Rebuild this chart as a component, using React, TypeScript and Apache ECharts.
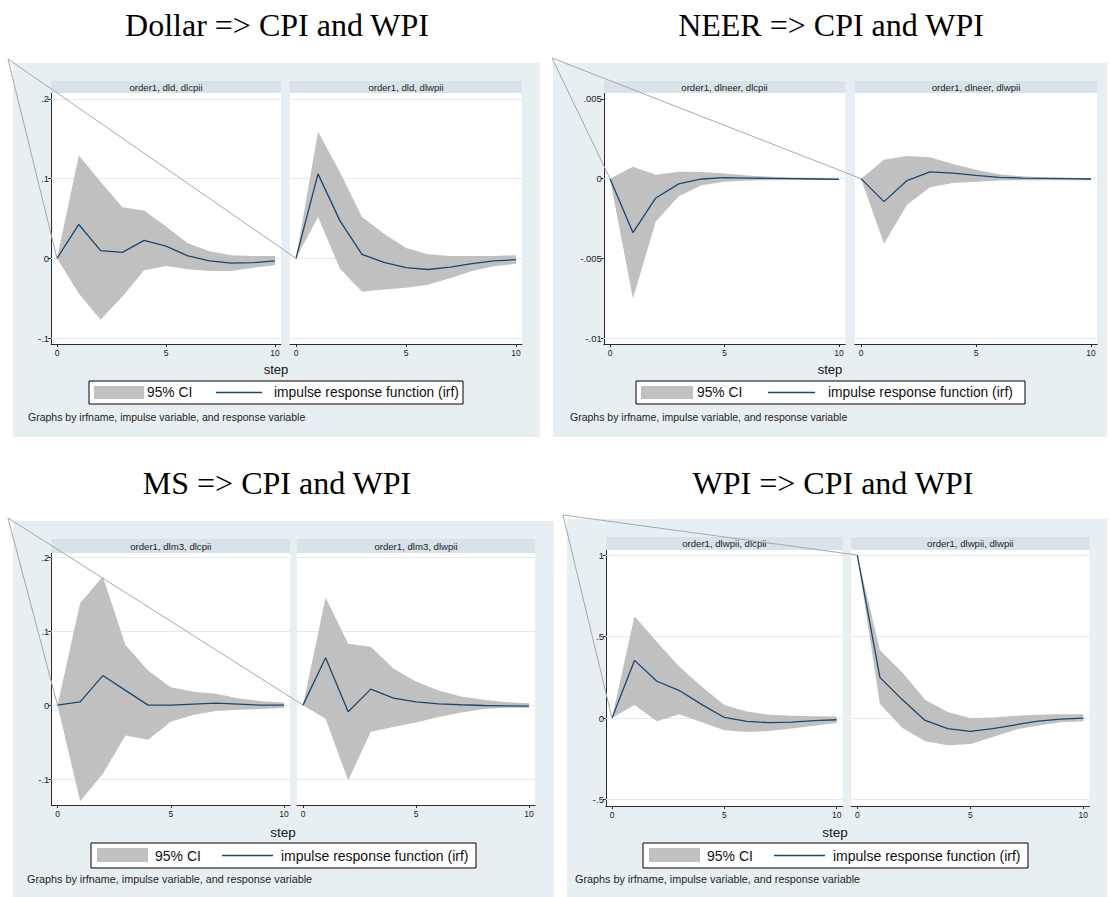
import React, { useEffect, useRef } from "react";
import * as echarts from "echarts";

// ---------------- data ----------------
const steps = [0, 1, 2, 3, 4, 5, 6, 7, 8, 9, 10];
const xTicks = [0, 5, 10];

const panelTitles = ["Dollar => CPI and WPI", "NEER => CPI and WPI", "MS => CPI and WPI", "WPI => CPI and WPI"];
const stripLabels = [
  ["order1, dld, dlcpii", "order1, dld, dlwpii"],
  ["order1, dlneer, dlcpii", "order1, dlneer, dlwpii"],
  ["order1, dlm3, dlcpii", "order1, dlm3, dlwpii"],
  ["order1, dlwpii, dlcpii", "order1, dlwpii, dlwpii"],
];
const yTicksDollar = [-0.1, 0, 0.1, 0.2];
const yTicksNeer = [-0.01, -0.005, 0, 0.005];
const yTicksMs = [-0.1, 0, 0.1, 0.2];
const yTicksWpi = [-0.5, 0, 0.5, 1];
const legendLabels = ["95% CI", "impulse response function (irf)"];
const xAxisTitle = "step";
const noteText = "Graphs by irfname, impulse variable, and response variable";

// Dollar -> CPI / WPI
const dollarCpiIrf = [0, 0.0425, 0.0096, 0.0075, 0.0225, 0.0154, 0.003, -0.0033, -0.006, -0.0054, -0.0033];
const dollarCpiUp = [0, 0.129, 0.096, 0.064, 0.06, 0.04, 0.019, 0.009, 0.004, 0.003, 0.003];
const dollarCpiLo = [0, -0.044, -0.077, -0.048, -0.015, -0.0096, -0.0138, -0.016, -0.0158, -0.0117, -0.0088];
const dollarWpiIrf = [0, 0.106, 0.047, 0.005, -0.005, -0.0117, -0.014, -0.011, -0.0067, -0.0033, -0.0017];
const dollarWpiUp = [0, 0.159, 0.108, 0.052, 0.031, 0.013, 0.005, 0.003, 0.003, 0.003, 0.004];
const dollarWpiLo = [0, 0.052, -0.013, -0.042, -0.039, -0.037, -0.033, -0.025, -0.016, -0.01, -0.0067];

// NEER -> CPI / WPI
const neerCpiIrf = [0, -0.00338, -0.00121, -0.00033, -0.00002, 0.00006, 0.00004, 0.00002, 0, -0.00002, -0.00004];
const neerCpiUp = [0, 0.00075, 0.00025, 0.00044, 0.00042, 0.00033, 0.0002, 0.00012, 0.00008, 0.00005, 0.00005];
const neerCpiLo = [0, -0.00752, -0.00269, -0.0011, -0.00042, -0.0002, -0.00012, -0.0001, -0.00008, -0.00008, -0.00008];
const neerWpiIrf = [0, -0.00144, -0.00012, 0.00042, 0.00035, 0.0002, 0.00008, 0.00004, 0.00002, 0, -0.00002];
const neerWpiUp = [0, 0.00119, 0.00142, 0.00135, 0.00092, 0.00056, 0.00027, 0.00015, 0.00008, 0.00005, 0.00004];
const neerWpiLo = [0, -0.00408, -0.00163, -0.00054, -0.00027, -0.00019, -0.00012, -0.0001, -0.0001, -0.0001, -0.0001];

// MS -> CPI / WPI
const msCpiIrf = [0, 0.0045, 0.04, 0.02, 0, 0, 0.0014, 0.0027, 0.0014, 0, 0];
const msCpiUp = [0, 0.138, 0.174, 0.0815, 0.0468, 0.0243, 0.018, 0.0153, 0.009, 0.0054, 0.0036];
const msCpiLo = [0, -0.13, -0.093, -0.041, -0.047, -0.0225, -0.0135, -0.0081, -0.0063, -0.0054, -0.004];
const msWpiIrf = [0, 0.064, -0.009, 0.0216, 0.0095, 0.0045, 0.0018, 0.0005, -0.0005, -0.001, -0.0014];
const msWpiUp = [0, 0.1455, 0.083, 0.079, 0.0495, 0.032, 0.0198, 0.0117, 0.0072, 0.004, 0.0027];
const msWpiLo = [0, -0.0185, -0.102, -0.036, -0.0297, -0.0234, -0.0162, -0.0099, -0.0054, -0.0036, -0.0036];

// WPI -> CPI / WPI
const wpiCpiIrf = [0, 0.354, 0.226, 0.169, 0.083, 0.004, -0.02, -0.028, -0.024, -0.016, -0.01];
const wpiCpiUp = [0, 0.624, 0.467, 0.315, 0.193, 0.081, 0.041, 0.02, 0.014, 0.012, 0.01];
const wpiCpiLo = [0, 0.081, -0.02, 0.024, -0.026, -0.075, -0.085, -0.079, -0.063, -0.047, -0.03];
const wpiWpiIrf = [1, 0.25, 0.112, -0.014, -0.065, -0.081, -0.065, -0.041, -0.018, -0.006, 0];
const wpiWpiUp = [1, 0.417, 0.28, 0.112, 0.037, 0, 0.004, 0.014, 0.02, 0.024, 0.024];
const wpiWpiLo = [1, 0.087, -0.061, -0.142, -0.167, -0.159, -0.116, -0.071, -0.045, -0.026, -0.02];

const panelData = [
  { ticks: yTicksDollar, subs: [[dollarCpiIrf, dollarCpiLo, dollarCpiUp], [dollarWpiIrf, dollarWpiLo, dollarWpiUp]] },
  { ticks: yTicksNeer, subs: [[neerCpiIrf, neerCpiLo, neerCpiUp], [neerWpiIrf, neerWpiLo, neerWpiUp]] },
  { ticks: yTicksMs, subs: [[msCpiIrf, msCpiLo, msCpiUp], [msWpiIrf, msWpiLo, msWpiUp]] },
  { ticks: yTicksWpi, subs: [[wpiCpiIrf, wpiCpiLo, wpiCpiUp], [wpiWpiIrf, wpiWpiLo, wpiWpiUp]] },
];

// ---------------- layout / style ----------------
const BG = "#e8eff2";
const STRIP = "#d8e3e9";
const GRIDC = "#e2ebee";
const CI = "#c0c0c0";
const NAVY = "#1a476f";
const AXIS = "#2a2a2a";
const SANS = "'Liberation Sans', Arial, sans-serif";
const SERIF = "'Liberation Serif', 'Times New Roman', serif";
const XPAD = 0.27;

const LAYOUT = [
  {
    bg: [13, 63, 540, 437], top: 93, bottom: 344, strip: 12, yMin: -0.1075, yMax: 0.2075,
    subs: [{ x0: 57, x10: 275 }, { x0: 296, x10: 516 }],
    title: [277, 25], apex: [8, 59], step: [276, 369], stepFs: 13, note: [28, 417], noteFs: 10.5,
    legend: { box: [89, 381, 463, 404], sw: [94, 386, 144, 399], ciX: 147, line: [216, 262], irfX: 274, fs: 13.8 },
  },
  {
    bg: [553, 63, 1107, 437], top: 93, bottom: 344, strip: 12, yMin: -0.010376, yMax: 0.005376,
    subs: [{ x0: 610, x10: 839 }, { x0: 861, x10: 1091 }],
    title: [831, 25], apex: [552, 58], step: [830, 369], stepFs: 13, note: [570, 417], noteFs: 10.5,
    legend: { box: [636, 381, 1025, 404], sw: [641, 386, 693, 399], ciX: 697, line: [768, 815], irfX: 828, fs: 13.8 },
  },
  {
    bg: [13, 521, 554, 897], top: 553, bottom: 805, strip: 14, yMin: -0.1351, yMax: 0.2058,
    subs: [{ x0: 57.5, x10: 284 }, { x0: 303, x10: 529 }],
    title: [277, 483], apex: [8, 518], step: [283, 832], stepFs: 13.5, note: [27, 879], noteFs: 10.8,
    legend: { box: [91, 843, 476, 868], sw: [97, 848, 148, 862], ciX: 155, line: [222, 273], irfX: 281, fs: 14 },
  },
  {
    bg: [567, 519, 1107, 897], top: 550, bottom: 806, strip: 13, yMin: -0.539, yMax: 1.031,
    subs: [{ x0: 612, x10: 836.7 }, { x0: 857.3, x10: 1083.3 }],
    title: [833, 483], apex: [563, 515], step: [835, 832], stepFs: 13.5, note: [575, 879], noteFs: 10.8,
    legend: { box: [643, 843, 1028, 868], sw: [649, 848, 700, 862], ciX: 707, line: [774, 825], irfX: 833, fs: 14 },
  },
];

const fmtTick = (v: number) => String(+v.toFixed(6)).replace(/^(-?)0\./, "$1.");

function buildOption() {
  const grid: any[] = [];
  const xAxis: any[] = [];
  const yAxis: any[] = [];
  const series: any[] = [];
  LAYOUT.forEach((p, pi) => {
    const pd = panelData[pi];
    p.subs.forEach((s, si) => {
      const gi = grid.length;
      const u = (s.x10 - s.x0) / 10;
      const left = s.x0 - XPAD * u;
      const right = s.x10 + XPAD * u;
      grid.push({
        left, top: p.top, width: right - left, height: p.bottom - p.top,
        show: true, backgroundColor: "#ffffff", borderWidth: 0, containLabel: false,
      });
      xAxis.push({
        gridIndex: gi, type: "value", min: -XPAD, max: 10 + XPAD,
        axisLine: { show: true, onZero: false, lineStyle: { color: AXIS, width: 1 } },
        axisTick: { show: true, length: 3, customValues: xTicks, lineStyle: { color: AXIS, width: 1 } },
        axisLabel: { show: true, customValues: xTicks, fontSize: 8.5, margin: 4, color: "#222", fontFamily: SANS },
        splitLine: { show: false },
      });
      yAxis.push({
        gridIndex: gi, type: "value", min: p.yMin, max: p.yMax,
        axisLine: { show: si === 0, onZero: false, lineStyle: { color: AXIS, width: 1 } },
        axisTick: { show: si === 0, length: 3, customValues: pd.ticks, lineStyle: { color: AXIS, width: 1 } },
        axisLabel: {
          show: si === 0, customValues: pd.ticks, fontSize: 9.5, margin: 2, color: "#222", fontFamily: SANS,
          formatter: (v: number) => fmtTick(v),
        },
        splitLine: { show: false },
      });
      const [irf, lo, up] = pd.subs[si];
      series.push({
        type: "custom", name: legendLabels[0], xAxisIndex: gi, yAxisIndex: gi,
        data: [[0, 0]], z: 2, silent: true, clip: false,
        renderItem: (params: any, api: any) => {
          const pts: number[][] = [];
          for (let i = 0; i < steps.length; i++) pts.push(api.coord([steps[i], up[i]]));
          for (let i = steps.length - 1; i >= 0; i--) pts.push(api.coord([steps[i], lo[i]]));
          return { type: "polygon", shape: { points: pts }, style: { fill: CI, stroke: null } };
        },
      });
      series.push({
        type: "line", name: legendLabels[1], xAxisIndex: gi, yAxisIndex: gi,
        data: steps.map((st, i) => [st, irf[i]]),
        symbol: "none", z: 3, silent: true, clip: false,
        lineStyle: { color: NAVY, width: 1.3 },
        emphasis: { disabled: true },
        markLine: {
          silent: true, symbol: ["none", "none"], z: 1, animation: false,
          label: { show: false },
          lineStyle: { color: GRIDC, width: 1, type: "solid" },
          emphasis: { disabled: true },
          data: pd.ticks.map((v) => ({ yAxis: v })),
        },
      });
    });
  });
  return { animation: false, grid, xAxis, yAxis, series };
}

function baseGraphic() {
  const g: any[] = [];
  LAYOUT.forEach((p, pi) => {
    const [bx1, by1, bx2, by2] = p.bg;
    g.push({ type: "rect", z: -10, silent: true, shape: { x: bx1, y: by1, width: bx2 - bx1, height: by2 - by1 }, style: { fill: BG } });
    g.push({
      type: "text", z: 20, silent: true, x: p.title[0], y: p.title[1],
      style: { text: panelTitles[pi], fontSize: 32, fontFamily: SERIF, fill: "#000", align: "center", verticalAlign: "middle" },
    });
    p.subs.forEach((s, si) => {
      const u = (s.x10 - s.x0) / 10;
      const left = s.x0 - XPAD * u;
      const right = s.x10 + XPAD * u;
      g.push({
        type: "rect", z: 10, silent: true,
        shape: { x: left, y: p.top - p.strip, width: right - left, height: p.strip }, style: { fill: STRIP },
      });
      g.push({
        type: "text", z: 11, silent: true, x: (left + right) / 2, y: p.top - p.strip / 2,
        style: { text: stripLabels[pi][si], fontSize: 9.6, fontFamily: SANS, fill: "#222", align: "center", verticalAlign: "middle" },
      });
    });
    g.push({
      type: "text", z: 11, silent: true, x: p.step[0], y: p.step[1],
      style: { text: xAxisTitle, fontSize: p.stepFs, fontFamily: SANS, fill: "#111", align: "center", verticalAlign: "middle" },
    });
    const L = p.legend;
    const cy = (L.box[1] + L.box[3]) / 2;
    g.push({
      type: "rect", z: 11, silent: true,
      shape: { x: L.box[0], y: L.box[1], width: L.box[2] - L.box[0], height: L.box[3] - L.box[1] },
      style: { fill: "#fff", stroke: "#000", lineWidth: 1 },
    });
    g.push({
      type: "rect", z: 12, silent: true,
      shape: { x: L.sw[0], y: L.sw[1], width: L.sw[2] - L.sw[0], height: L.sw[3] - L.sw[1] },
      style: { fill: CI },
    });
    g.push({
      type: "text", z: 12, silent: true, x: L.ciX, y: cy,
      style: { text: legendLabels[0], fontSize: L.fs, fontFamily: SANS, fill: "#111", align: "left", verticalAlign: "middle" },
    });
    g.push({
      type: "line", z: 12, silent: true,
      shape: { x1: L.line[0], y1: cy, x2: L.line[1], y2: cy },
      style: { stroke: NAVY, lineWidth: 1.3 },
    });
    g.push({
      type: "text", z: 12, silent: true, x: L.irfX, y: cy,
      style: { text: legendLabels[1], fontSize: L.fs, fontFamily: SANS, fill: "#111", align: "left", verticalAlign: "middle" },
    });
    g.push({
      type: "text", z: 11, silent: true, x: p.note[0], y: p.note[1],
      style: { text: noteText, fontSize: p.noteFs, fontFamily: SANS, fill: "#222", align: "left", verticalAlign: "middle" },
    });
  });
  return g;
}

export default function App() {
  const ref = useRef<HTMLDivElement>(null);
  useEffect(() => {
    if (!ref.current) return;
    const chart = echarts.init(ref.current, null, { renderer: "svg" });
    chart.setOption(buildOption());
    const lines = LAYOUT.map((p, pi) => {
      const giA = pi * 2;
      const giB = pi * 2 + 1;
      const a = chart.convertToPixel({ seriesIndex: giA * 2 + 1 } as any, [steps[0], panelData[pi].subs[0][0][0]]) as any;
      const b = chart.convertToPixel({ seriesIndex: giB * 2 + 1 } as any, [steps[0], panelData[pi].subs[1][0][0]]) as any;
      return {
        type: "polyline", z: 50, silent: true,
        shape: { points: [a, p.apex, b] },
        style: { stroke: "#a8a8a8", lineWidth: 1, fill: null },
      };
    });
    chart.setOption({ graphic: [...baseGraphic(), ...lines] });
    return () => chart.dispose();
  }, []);
  return (
    <div
      ref={ref}
      style={{ position: "absolute", left: 0, top: 0, width: 1110, height: 897, background: "#fff" }}
    />
  );
}
